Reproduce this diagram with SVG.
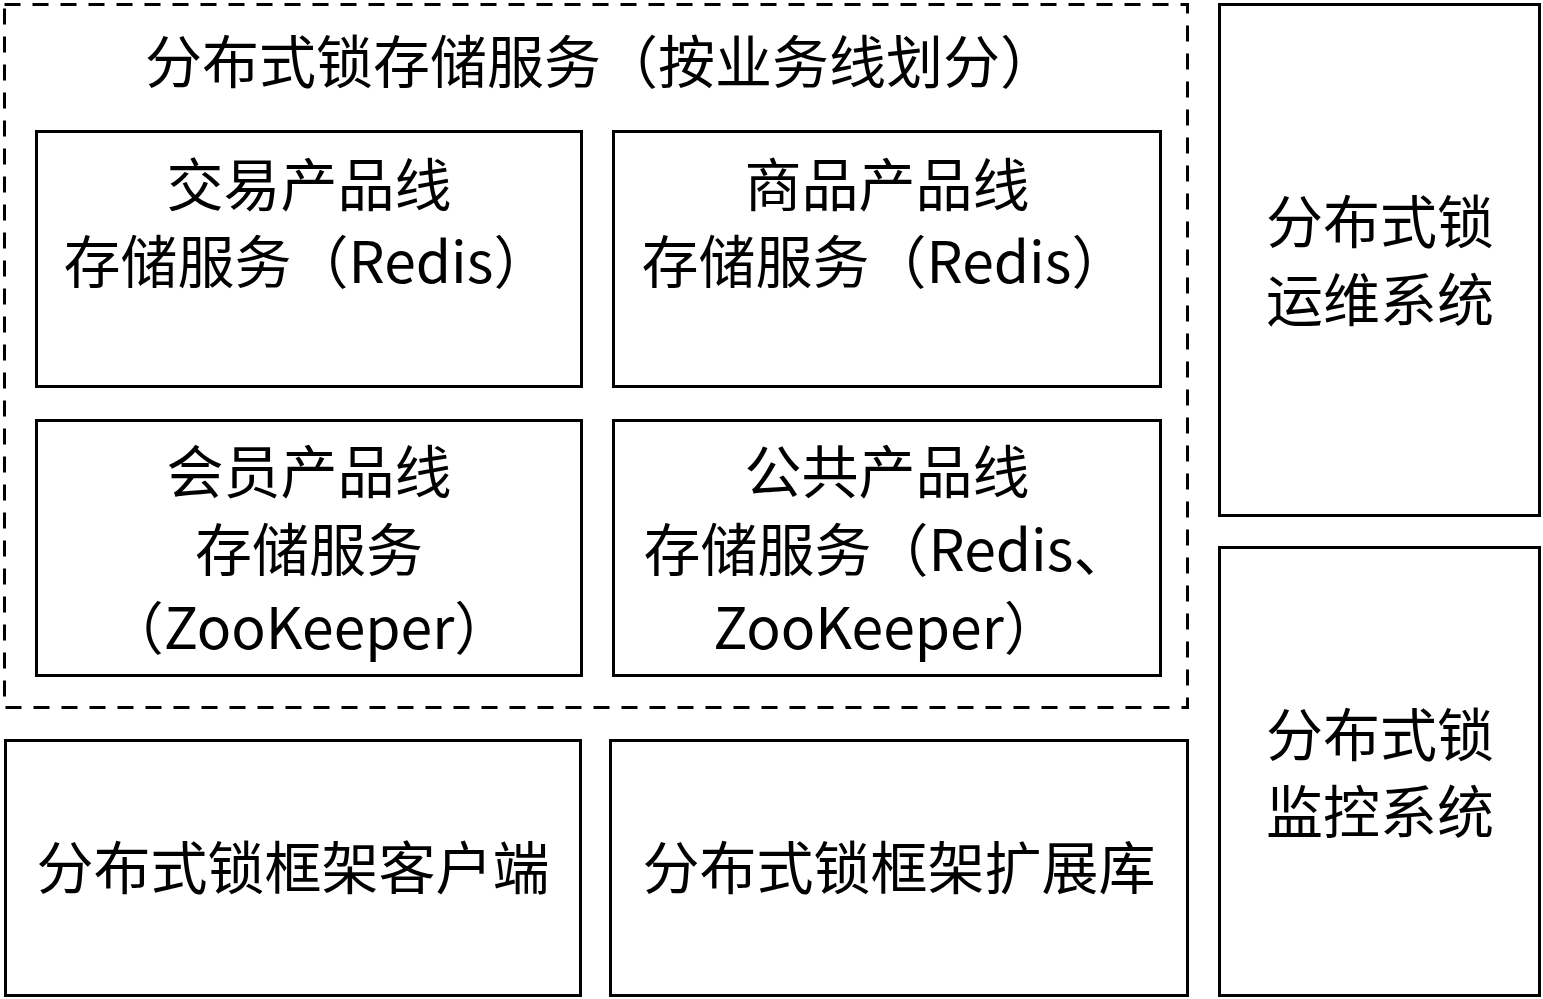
<svg xmlns="http://www.w3.org/2000/svg" width="1543" height="999" viewBox="0 0 1543 999">
<style>
.box{fill:#fff;stroke:#000;stroke-width:3}
.dash{fill:none;stroke:#000;stroke-width:3;stroke-dasharray:16 12}
text{font-family:"Noto Sans CJK SC","Noto Sans",sans-serif;font-size:57px;fill:#000;text-anchor:middle;dominant-baseline:central}
</style>
<rect width="1543" height="999" fill="#fff"/>
<g id="storage-group">
<rect class="dash" x="4.5" y="4.5" width="1183" height="703"/>
<text x="601" y="58">分布式锁存储服务（按业务线划分）</text>
</g>
<g id="trade">
<rect class="box" x="36.5" y="131.5" width="545" height="255"/>
<text x="309" y="181">交易产品线</text>
<text x="307" y="258">存储服务（Redis）</text>
</g>
<g id="goods">
<rect class="box" x="613.5" y="131.5" width="547" height="255"/>
<text x="887" y="181">商品产品线</text>
<text x="885" y="258">存储服务（Redis）</text>
</g>
<g id="member">
<rect class="box" x="36.5" y="420.5" width="545" height="255"/>
<text x="309" y="468">会员产品线</text>
<text x="309" y="546">存储服务</text>
<text x="309" y="624">（ZooKeeper）</text>
</g>
<g id="public">
<rect class="box" x="613.5" y="420.5" width="547" height="255"/>
<text x="887" y="468">公共产品线</text>
<text x="887" y="546">存储服务（Redis、</text>
<text x="887" y="624">ZooKeeper）</text>
</g>
<g id="client">
<rect class="box" x="5.5" y="740.5" width="575" height="255"/>
<text x="293" y="864">分布式锁框架客户端</text>
</g>
<g id="ext">
<rect class="box" x="610.5" y="740.5" width="577" height="255"/>
<text x="899" y="864">分布式锁框架扩展库</text>
</g>
<g id="ops">
<rect class="box" x="1219.5" y="4.5" width="320" height="511"/>
<text x="1380" y="218">分布式锁</text>
<text x="1380" y="296">运维系统</text>
</g>
<g id="monitor">
<rect class="box" x="1219.5" y="547.5" width="320" height="448"/>
<text x="1380" y="731">分布式锁</text>
<text x="1380" y="808">监控系统</text>
</g>
<g id="connectors"></g>
</svg>
